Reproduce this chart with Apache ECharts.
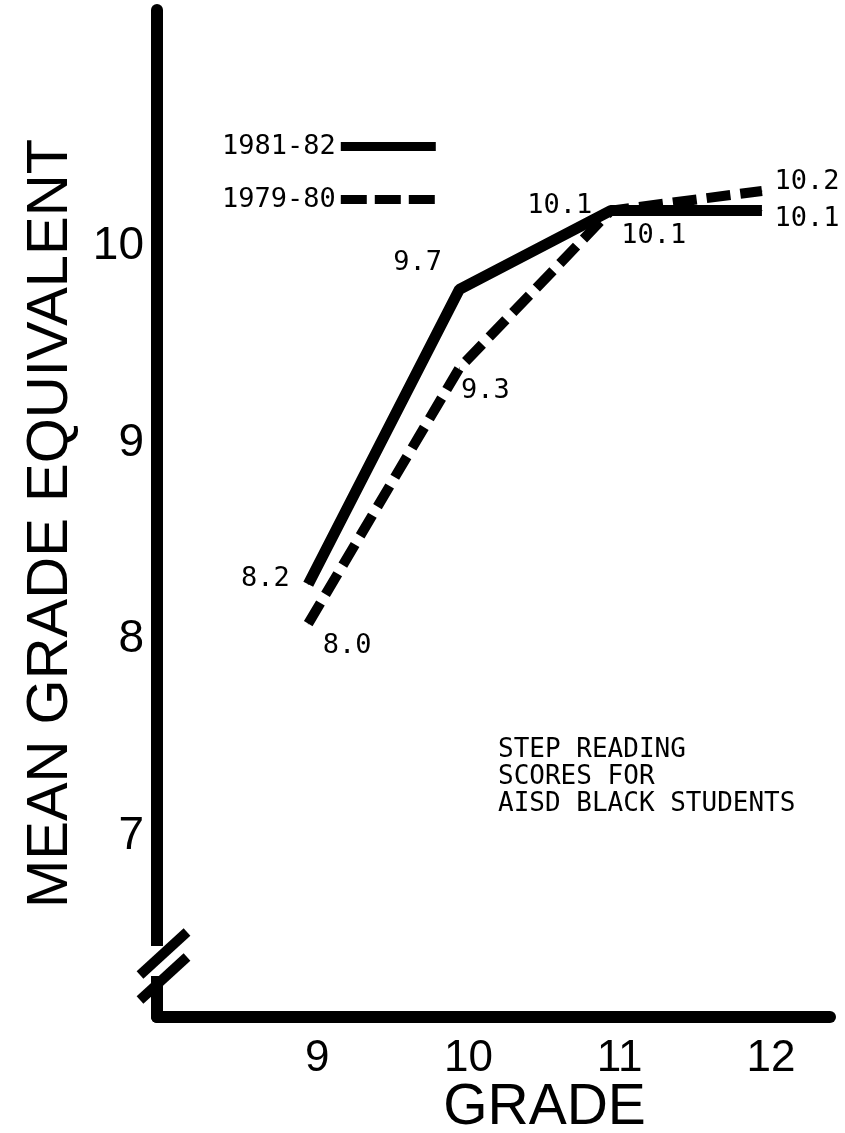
<!DOCTYPE html>
<html>
<head>
<meta charset="utf-8">
<script src="https://cdn.jsdelivr.net/npm/echarts@6/dist/echarts.min.js"></script>
<style>
  html, body { margin: 0; padding: 0; background: #fff; }
  #chart { width: 845px; height: 1133px; }
</style>
</head>
<body>
<div id="chart"></div>
<script>
// data
var grades = [9, 10, 11, 12];
var scores8182 = [8.2, 9.7, 10.1, 10.1];
var scores7980 = [8.0, 9.3, 10.1, 10.2];
var yTicks = [7, 8, 9, 10];
var seriesNames = ["1981-82", "1979-80"];
var note = ["STEP READING", "SCORES FOR", "AISD BLACK STUDENTS"];

// where each value label sits next to its point
var labels8182 = [
  { position: "left", offset: [-13, -5] },
  { position: "left", offset: [-12, -26] },
  { position: "left", offset: [-13, -5] },
  { position: "right", offset: [7, 8] },
];
var labels7980 = [
  { position: "right", offset: [9, 22] },
  { position: "right", offset: [-4, 23] },
  { position: "right", offset: [5, 25] },
  { position: "right", offset: [7, -9] },
];

var mono = "DejaVu Sans Mono";
var sans = "Liberation Sans";

function points(values, labelPos) {
  return values.map(function (v, i) {
    return {
      value: [grades[i], v],
      label: labelPos[i],
    };
  });
}

function oneDecimal(p) {
  return p.value[1].toFixed(1);
}

var chart = echarts.init(document.getElementById("chart"));
var option = {
  animation: false,
  backgroundColor: "#fff",
  grid: { left: 157, right: 15, top: 10, bottom: 116, outerBoundsMode: "none" },
  legend: {
    orient: "vertical",
    left: 217,
    top: 128,
    align: "right",
    itemWidth: 95,
    itemHeight: 24,
    itemGap: 26,
    itemStyle: { opacity: 0 },
    textStyle: { fontFamily: mono, fontSize: 27, color: "#000" },
    data: [
      { name: seriesNames[0], lineStyle: { width: 9, type: "solid" } },
      { name: seriesNames[1], lineStyle: { width: 9, type: [26, 8] } },
    ],
  },
  xAxis: {
    type: "value",
    min: 8,
    max: 12.45,
    interval: 1,
    splitLine: { show: false },
    axisTick: { show: false },
    axisLine: { show: true, lineStyle: { color: "#000", width: 12 } },
    axisLabel: {
      margin: 20,
      fontFamily: sans,
      fontSize: 44,
      color: "#000",
      padding: [0, 0, 0, 18],
      formatter: function (v) {
        return grades.indexOf(v) >= 0 ? String(v) : "";
      },
    },
    name: "GRADE",
    nameLocation: "middle",
    nameMoveOverlap: false,
    nameGap: 63,
    nameTextStyle: { fontFamily: sans, fontSize: 57, color: "#000", padding: [0, 0, 0, 102] },
  },
  yAxis: {
    type: "value",
    min: 6,
    max: 11.12,
    interval: 1,
    splitLine: { show: false },
    axisTick: { show: false },
    axisLine: { show: true, lineStyle: { color: "#000", width: 12 } },
    axisLabel: {
      margin: 13,
      fontFamily: sans,
      fontSize: 46,
      lineHeight: 32,
      verticalAlign: "top",
      color: "#000",
      formatter: function (v) {
        return yTicks.indexOf(v) >= 0 ? String(v) : "";
      },
    },
    name: "MEAN GRADE EQUIVALENT",
    nameLocation: "middle",
    nameGap: 77,
    nameTextStyle: { fontFamily: sans, fontSize: 58, color: "#000", padding: [0, 20, 0, 0] },
  },
  series: [
    {
      name: seriesNames[0],
      type: "line",
      symbol: "circle",
      symbolSize: 1,
      lineStyle: { color: "#000", width: 11, type: "solid" },
      itemStyle: { color: "#000" },
      label: { show: true, fontFamily: mono, fontSize: 27, color: "#000", formatter: oneDecimal },
      data: points(scores8182, labels8182),
      z: 3,
    },
    {
      name: seriesNames[1],
      type: "line",
      symbol: "circle",
      symbolSize: 1,
      lineStyle: { color: "#000", width: 10, type: [24, 10] },
      itemStyle: { color: "#000" },
      label: { show: true, fontFamily: mono, fontSize: 27, color: "#000", formatter: oneDecimal },
      data: points(scores7980, labels7980),
      z: 2,
    },
  ],
  graphic: [
    // axis break
    { type: "rect", z: 100, shape: { x: 145, y: 946, width: 25, height: 30 }, style: { fill: "#fff" } },
    { type: "line", z: 101, shape: { x1: 140, y1: 975, x2: 187, y2: 932 }, style: { stroke: "#000", lineWidth: 10 } },
    { type: "line", z: 101, shape: { x1: 140, y1: 1000, x2: 187, y2: 957 }, style: { stroke: "#000", lineWidth: 10 } },
    {
      type: "text",
      z: 100,
      left: 498,
      top: 737,
      style: {
        text: note.join("\n"),
        font: "26px " + mono,
        lineHeight: 27,
        fill: "#000",
      },
    },
  ],
};
chart.setOption(option);
</script>
</body>
</html>
